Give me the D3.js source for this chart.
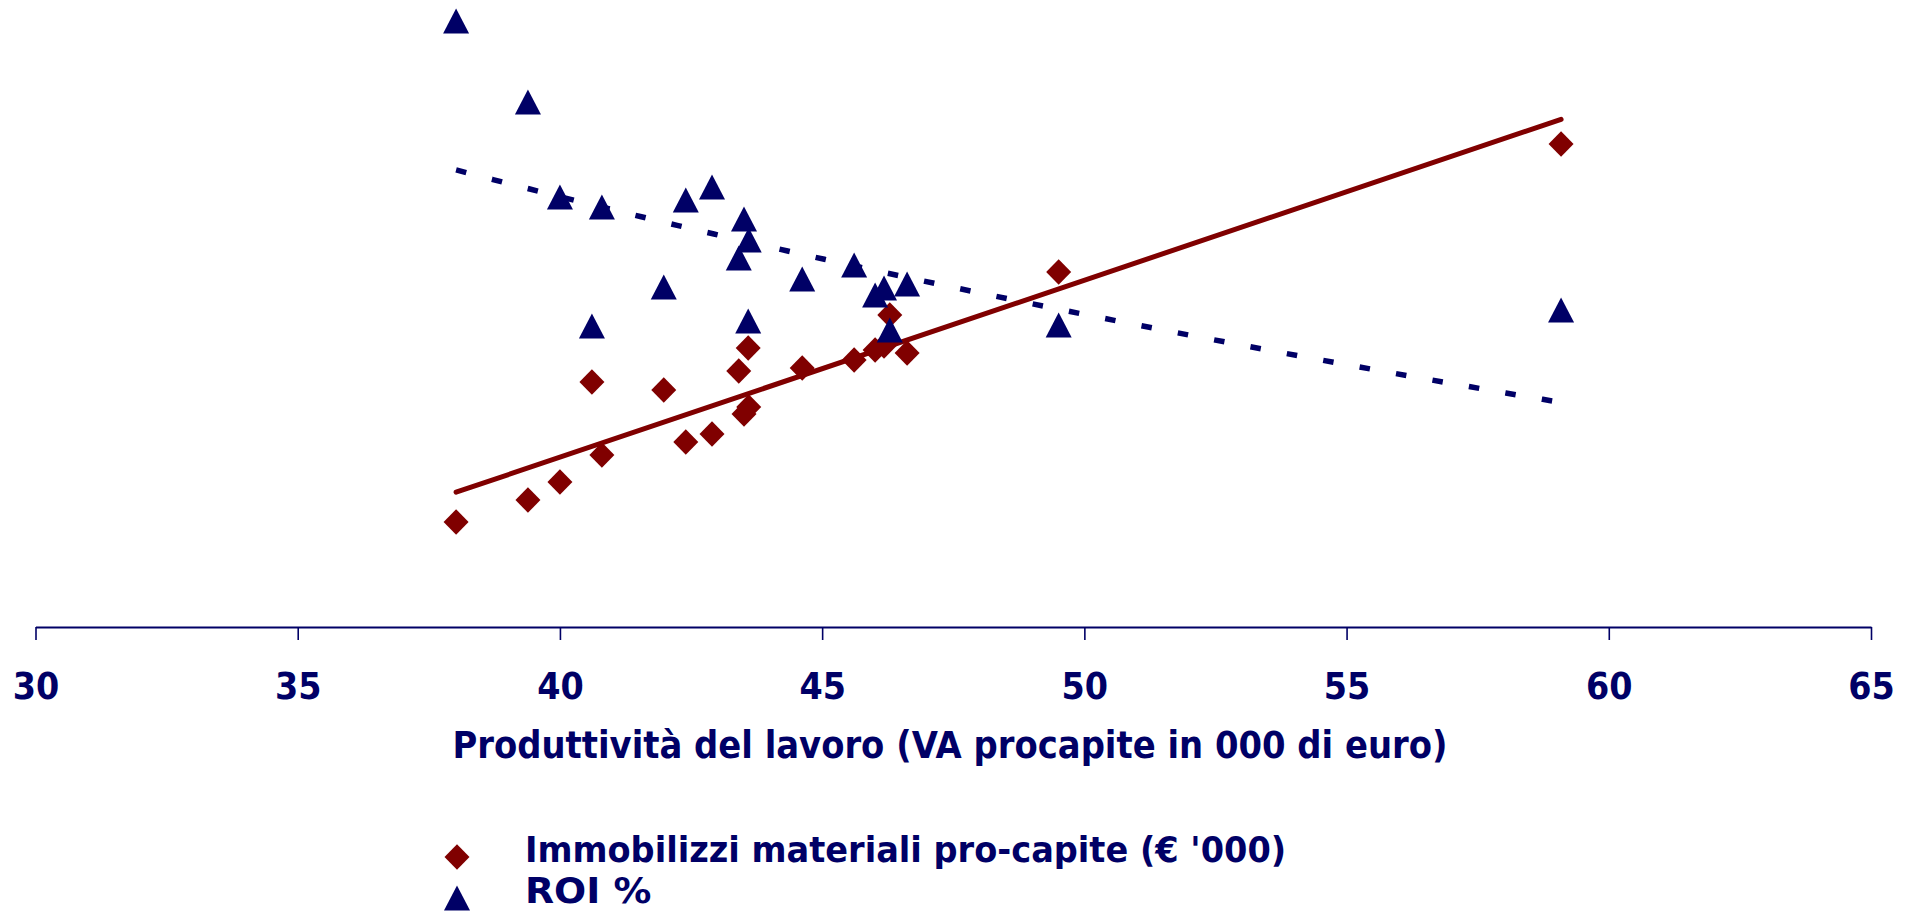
<!DOCTYPE html>
<html>
<head>
<meta charset="utf-8">
<script src="https://cdn.jsdelivr.net/npm/d3@7"></script>
<style>
  body { margin: 0; background: #fff; }
  svg text { font-family: "DejaVu Sans", Verdana, sans-serif; font-weight: bold; fill: #000066; }
</style>
</head>
<body>
<div id="chart"></div>
<script>
// Produttività del lavoro (VA procapite, 000 euro) - one value per point
var produttivita = [38.02, 39.39, 40.00, 40.80, 40.61, 41.98, 42.40, 42.90, 43.51, 43.60,
                    43.41, 43.59, 44.62, 45.61, 46.01, 46.18, 46.62, 46.29, 49.51, 59.09];
// Immobilizzi materiali pro-capite (€ '000)
var immobilizzi = [5.25, 6.35, 7.25, 8.6, 12.25, 11.85, 9.25, 9.65, 10.65, 11.0,
                   12.8, 13.95, 12.95, 13.35, 13.85, 14.05, 13.7, 15.6, 17.75, 24.15];
// ROI %
var roi = [30.3, 26.25, 21.5, 21.0, 15.05, 17.0, 21.35, 22.0, 20.4, 19.35,
           18.45, 15.3, 17.4, 18.1, 16.6, 16.95, 17.15, 14.85, 15.1, 15.85];

var xTicks = [30, 35, 40, 45, 50, 55, 60, 65];
var xTitle = "Produttività del lavoro (VA procapite in 000 di euro)";
var legendLabels = ["Immobilizzi materiali pro-capite (€ '000)", "ROI %"];

var width = 1916, height = 911;
var navy = "#000066", darkRed = "#800000";

var svg = d3.select("#chart").append("svg")
    .attr("width", width)
    .attr("height", height);

var x = d3.scaleLinear().domain([30, 65]).range([35.5, 1871]);
var y = d3.scaleLinear().domain([0, 30]).range([627, 27]);

// squeeze DejaVu a little so it sits like Tahoma
function squeeze(sel, k) {
  sel.each(function(d, i) {
    var f = typeof k === "function" ? k(d, i) : k;
    var w = this.getComputedTextLength();
    d3.select(this).attr("textLength", w * f).attr("lengthAdjust", "spacingAndGlyphs");
  });
}

// least squares fit, f transforms x (identity or log)
function fit(xs, ys, f) {
  var u = xs.map(f);
  var mu = d3.mean(u), my = d3.mean(ys);
  var sxy = d3.sum(u, function(v, i) { return (v - mu) * (ys[i] - my); });
  var sxx = d3.sum(u, function(v) { return (v - mu) * (v - mu); });
  var b = sxy / sxx;
  return function(xv) { return my + b * (f(xv) - mu); };
}

var pts = produttivita.map(function(p, i) { return {x: p, imm: immobilizzi[i], roi: roi[i]}; });
var xMin = d3.min(produttivita), xMax = d3.max(produttivita);

//	Axis
var xAxis = svg.append("g")
    .attr("transform", "translate(0," + y(0) + ")")
    .call(d3.axisBottom(x).tickValues(xTicks).tickSize(13).tickSizeOuter(0));
xAxis.select(".domain").attr("stroke", navy).attr("stroke-width", 2);
xAxis.selectAll(".tick line").attr("stroke", navy).attr("stroke-width", 1.6);
xAxis.selectAll(".tick text")
    .attr("y", 72).attr("dy", 0)
    .style("font-size", "38px")
    .call(squeeze, 0.88);

svg.append("text")
    .attr("x", 950).attr("y", 758)
    .attr("text-anchor", "middle")
    .style("font-size", "37px")
    .text(xTitle)
    .call(squeeze, 0.915);

//	Trend lines
var linFit = fit(produttivita, immobilizzi, function(v) { return v; });
var logFit = fit(produttivita, roi, Math.log);
var samples = d3.range(0, 61).map(function(i) { return xMin + (xMax - xMin) * i / 60; });

svg.append("path")
    .datum([xMin, xMax])
    .attr("fill", "none")
    .attr("stroke", darkRed)
    .attr("stroke-width", 5)
    .attr("stroke-linecap", "round")
    .attr("d", d3.line().x(function(d) { return x(d); }).y(function(d) { return y(linFit(d)); }));

svg.append("path")
    .datum(samples)
    .attr("fill", "none")
    .attr("stroke", navy)
    .attr("stroke-width", 5.5)
    .attr("stroke-dasharray", "10.5 26.5")
    .attr("d", d3.line().x(function(d) { return x(d); }).y(function(d) { return y(logFit(d)); }));

//	Markers
var diamond = "M0,-12.8L12.5,0L0,12.8L-12.5,0Z";
var triangle = "M0,-12.5L13,12.5L-13,12.5Z";

svg.append("g").selectAll("path")
    .data(pts).enter().append("path")
    .attr("d", diamond)
    .attr("fill", darkRed)
    .attr("transform", function(d) { return "translate(" + x(d.x) + "," + y(d.imm) + ")"; });

svg.append("g").selectAll("path")
    .data(pts).enter().append("path")
    .attr("d", triangle)
    .attr("fill", navy)
    .attr("transform", function(d) { return "translate(" + x(d.x) + "," + y(d.roi) + ")"; });

//	Legend
var legend = svg.append("g").selectAll("g")
    .data(legendLabels).enter().append("g")
    .attr("transform", function(d, i) { return "translate(457," + (857 + i * 41) + ")"; });
legend.append("path")
    .attr("d", function(d, i) { return i === 0 ? diamond : triangle; })
    .attr("fill", function(d, i) { return i === 0 ? darkRed : navy; });
legend.append("text")
    .attr("x", 68).attr("y", 5)
    .style("font-size", "35px")
    .text(function(d) { return d; })
    .call(squeeze, function(d, i) { return i === 0 ? 0.96 : 1.08; });
</script>
</body>
</html>
